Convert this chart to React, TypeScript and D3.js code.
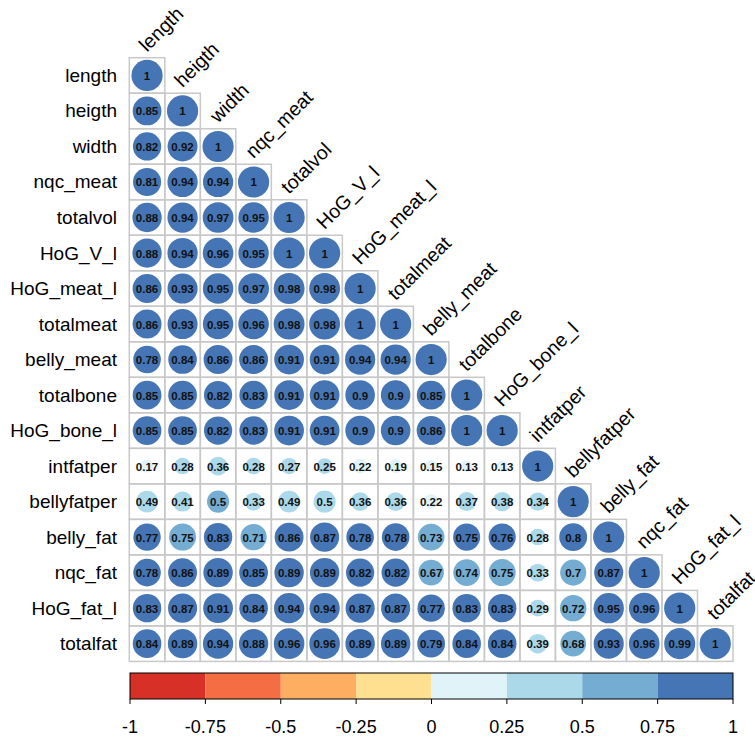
import * as d3 from "d3";

// variable names, in matrix order
const vars = [
  "length", "heigth", "width", "nqc_meat", "totalvol", "HoG_V_l", "HoG_meat_l",
  "totalmeat", "belly_meat", "totalbone", "HoG_bone_l", "intfatper", "bellyfatper",
  "belly_fat", "nqc_fat", "HoG_fat_l", "totalfat",
];

// lower triangle, row by row (diagonal = 1 left out)
const lower: number[][] = [
  [],
  [0.85],
  [0.82, 0.92],
  [0.81, 0.94, 0.94],
  [0.88, 0.94, 0.97, 0.95],
  [0.88, 0.94, 0.96, 0.95, 1],
  [0.86, 0.93, 0.95, 0.97, 0.98, 0.98],
  [0.86, 0.93, 0.95, 0.96, 0.98, 0.98, 1],
  [0.78, 0.84, 0.86, 0.86, 0.91, 0.91, 0.94, 0.94],
  [0.85, 0.85, 0.82, 0.83, 0.91, 0.91, 0.9, 0.9, 0.85],
  [0.85, 0.85, 0.82, 0.83, 0.91, 0.91, 0.9, 0.9, 0.86, 1],
  [0.17, 0.28, 0.36, 0.28, 0.27, 0.251, 0.22, 0.19, 0.15, 0.13, 0.13],
  [0.49, 0.41, 0.502, 0.33, 0.49, 0.498, 0.36, 0.36, 0.22, 0.37, 0.38, 0.34],
  [0.77, 0.749, 0.83, 0.71, 0.86, 0.87, 0.78, 0.78, 0.73, 0.751, 0.76, 0.28, 0.8],
  [0.78, 0.86, 0.89, 0.85, 0.89, 0.89, 0.82, 0.82, 0.67, 0.74, 0.749, 0.33, 0.7, 0.87],
  [0.83, 0.87, 0.91, 0.84, 0.94, 0.94, 0.87, 0.87, 0.77, 0.83, 0.83, 0.29, 0.72, 0.95, 0.96],
  [0.84, 0.89, 0.94, 0.88, 0.96, 0.96, 0.89, 0.89, 0.79, 0.84, 0.84, 0.39, 0.68, 0.93, 0.96, 0.99],
];

const binColors = ["#D73027", "#F46D43", "#FDAE61", "#FEE090", "#E0F3F8", "#ABD9E9", "#74ADD1", "#4575B4"];
const legendTicks = [-1, -0.75, -0.5, -0.25, 0, 0.25, 0.5, 0.75, 1];

const W = 755;
const H = 738;
const font = "'Liberation Sans', Arial, sans-serif";

export default function App() {
  const left = 129.3;
  const top = 57.7;
  const right = 733;
  const size = (right - left) / vars.length;

  const x = d3.scaleBand<string>().domain(vars).range([left, right]);
  const y = d3.scaleBand<string>().domain(vars).range([top, top + size * vars.length]);
  const color = d3.scaleThreshold<number, string>()
    .domain(legendTicks.slice(1, -1))
    .range(binColors);
  const radius = d3.scaleSqrt().domain([0, 1]).range([0, 15.6]);

  const cells: { r: number; c: number; v: number }[] = [];
  lower.forEach((row, r) => {
    row.forEach((v, c) => cells.push({ r, c, v }));
    cells.push({ r, c: r, v: 1 });
  });

  const legY = 673;
  const legH = 26;
  const lx = d3.scaleLinear().domain([-1, 1]).range([130, 733]);

  return (
    <div style={{ position: "absolute", left: 0, top: 0 }}>
      <svg width={W} height={H} style={{ display: "block", background: "#fff" }} fontFamily={font}>
        {/* grid */}
        {cells.map((d, i) => (
          <rect
            key={"g" + i}
            x={x(vars[d.c])!}
            y={y(vars[d.r])!}
            width={size}
            height={size}
            fill="none"
            stroke="#c8c8c8"
            strokeWidth={1.5}
          />
        ))}
        {/* circles */}
        {cells.map((d, i) => (
          <circle
            key={"c" + i}
            cx={x(vars[d.c])! + size / 2}
            cy={y(vars[d.r])! + size / 2}
            r={radius(Math.abs(d.v))}
            fill={color(d.v)}
          />
        ))}
        {/* numbers */}
        {cells.map((d, i) => (
          <text
            key={"n" + i}
            x={x(vars[d.c])! + size / 2}
            y={y(vars[d.r])! + size / 2 + 0.5}
            textAnchor="middle"
            dominantBaseline="central"
            fontSize={11.5}
            fontWeight="bold"
            fill="#111"
          >
            {d3.format("~r")(+d.v.toFixed(2))}
          </text>
        ))}
        {/* row labels */}
        {vars.map((v) => (
          <text
            key={"r" + v}
            x={117}
            y={y(v)! + size / 2}
            textAnchor="end"
            dominantBaseline="central"
            fontSize={19}
            fill="#000"
          >
            {v}
          </text>
        ))}
        {/* column labels along the diagonal (the last one runs off the edge, as in the original) */}
        {vars.map((v) => {
          const cx = x(v)! + size / 2;
          const cy = y(v)! - 5;
          return (
            <text key={"t" + v} transform={`translate(${cx},${cy}) rotate(-45)`} fontSize={19.5} fill="#000">
              {v}
            </text>
          );
        })}
        {/* colour legend */}
        {binColors.map((c, i) => (
          <rect
            key={"l" + i}
            x={lx(legendTicks[i])}
            y={legY}
            width={lx(legendTicks[i + 1]) - lx(legendTicks[i])}
            height={legH}
            fill={c}
          />
        ))}
        <rect x={lx(-1)} y={legY} width={lx(1) - lx(-1)} height={legH} fill="none" stroke="#000" strokeWidth={1} />
        {legendTicks.map((t) => (
          <g key={"k" + t}>
            <line x1={lx(t)} x2={lx(t)} y1={legY + legH} y2={legY + legH + 5} stroke="#000" />
            <text x={lx(t)} y={733} textAnchor="middle" fontSize={18} fill="#000">
              {String(t)}
            </text>
          </g>
        ))}
      </svg>
    </div>
  );
}
